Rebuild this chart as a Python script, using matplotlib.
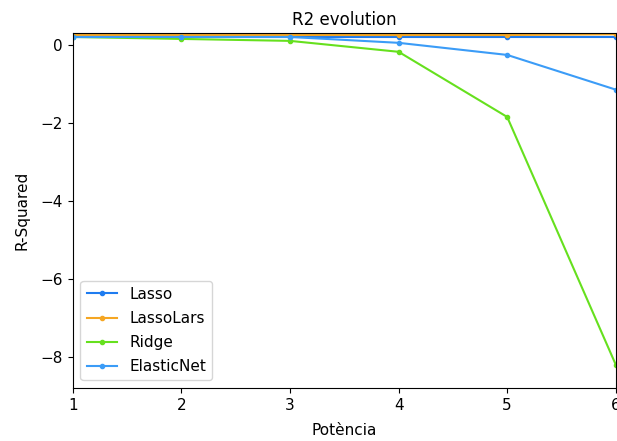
import matplotlib
matplotlib.use("Agg")
import matplotlib.pyplot as plt

potencia = [1, 2, 3, 4, 5, 6]
lasso = [0.2, 0.2, 0.2, 0.2, 0.2, 0.2]
lassolars = [0.25, 0.25, 0.25, 0.25, 0.25, 0.27]
ridge = [0.2, 0.15, 0.1, -0.18, -1.85, -8.2]
elasticnet = [0.2, 0.2, 0.2, 0.05, -0.26, -1.15]

fig = plt.figure(figsize=(6.17, 4.41), dpi=100)
ax = fig.add_axes([0.118, 0.12, 0.88, 0.805])

ax.plot(potencia, lasso, marker='.', color='#1f7cf0', label='Lasso')
ax.plot(potencia, lassolars, marker='.', color='#f5a623', label='LassoLars')
ax.plot(potencia, ridge, marker='.', color='#66e01e', label='Ridge')
ax.plot(potencia, elasticnet, marker='.', color='#3b9cf7', label='ElasticNet')

ax.set_xlim(1, 6)
ax.set_ylim(-8.8, 0.3)
ax.set_title('R2 evolution', fontsize=12)
ax.set_xlabel('Potència', fontsize=11, labelpad=7)
ax.set_ylabel('R-Squared', fontsize=11, labelpad=8)
ax.tick_params(labelsize=11)
ax.legend(loc='lower left', fontsize=11, labelspacing=0.6)

fig.savefig('out.png', dpi=100)
